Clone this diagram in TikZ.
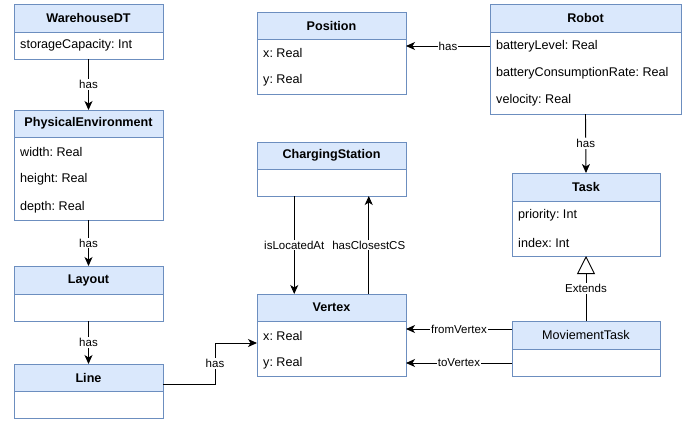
\documentclass[tikz,border=0pt]{standalone}
\usepackage{fontspec}
\setmainfont{Liberation Sans}
\frenchspacing
\usetikzlibrary{arrows.meta,calc}
\definecolor{hdrfill}{HTML}{DAE8FC}
\definecolor{hdrline}{HTML}{6C8EBF}
\tikzset{
 hdr/.style={draw=hdrline, fill=hdrfill, line width=0.9pt, minimum height=28pt, inner sep=0pt, outer sep=0pt, font=\fontsize{12.6}{15}\selectfont\bfseries, anchor=north west},
 bdy/.style={draw=hdrline, fill=white, line width=0.9pt, inner sep=0pt, outer sep=0pt, anchor=north west},
 attr/.style={anchor=west, inner sep=0pt, font=\fontsize{12.6}{15}\selectfont},
 conn/.style={draw=black, line width=0.9pt},
 arr/.style={conn, -{Stealth[length=9pt,width=8pt,inset=2.5pt]}},
 lbl/.style={fill=white, inner sep=1pt, font=\fontsize{11.5}{13}\selectfont},
 ext/.style={conn, -{Triangle[open,length=18pt,width=18pt,fill=white]}},
}
\begin{document}
\begin{tikzpicture}[x=1pt,y=-1pt]
\useasboundingbox (0,0) rectangle (699,421);
% WarehouseDT
\node[hdr, minimum width=149pt, minimum height=28pt] (wdtH) at (14,4) {WarehouseDT};
\node[bdy, minimum width=149pt, minimum height=27pt] (wdtB) at (wdtH.south west) {};
\node[attr] (wdtA1) at ([xshift=6pt,yshift=-13.5pt]wdtB.north west) {storageCapacity: Int};
% PhysicalEnvironment
\node[hdr, minimum width=149pt, minimum height=27pt] (peH) at (14,110) {PhysicalEnvironment};
\node[bdy, minimum width=149pt, minimum height=83pt] (peB) at (peH.south west) {};
\node[attr] (peA1) at ([xshift=6pt,yshift=-15pt]peB.north west) {width: Real};
\node[attr] (peA2) at ([xshift=6pt,yshift=-42.5pt]peB.north west) {height: Real};
\node[attr] (peA3) at ([xshift=6pt,yshift=-70pt]peB.north west) {depth: Real};
% Layout
\node[hdr, minimum width=149pt, minimum height=28pt] (layH) at (14,266) {Layout};
\node[bdy, minimum width=149pt, minimum height=27pt] (layB) at (layH.south west) {};
% Line
\node[hdr, minimum width=149pt, minimum height=27pt] (lineH) at (14,364) {Line};
\node[bdy, minimum width=149pt, minimum height=27pt] (lineB) at (lineH.south west) {};
% Position
\node[hdr, minimum width=149pt, minimum height=27pt] (posH) at (257,12) {Position};
\node[bdy, minimum width=149pt, minimum height=55pt] (posB) at (posH.south west) {};
\node[attr] (posA1) at ([xshift=6pt,yshift=-14pt]posB.north west) {x: Real};
\node[attr] (posA2) at ([xshift=6pt,yshift=-41pt]posB.north west) {y: Real};
% ChargingStation
\node[hdr, minimum width=149pt, minimum height=27pt] (csH) at (257,142) {ChargingStation};
\node[bdy, minimum width=149pt, minimum height=27pt] (csB) at (csH.south west) {};
% Vertex
\node[hdr, minimum width=149pt, minimum height=27pt] (verH) at (257,294) {Vertex};
\node[bdy, minimum width=149pt, minimum height=55pt] (verB) at (verH.south west) {};
\node[attr] (verA1) at ([xshift=6pt,yshift=-15pt]verB.north west) {x: Real};
\node[attr] (verA2) at ([xshift=6pt,yshift=-42pt]verB.north west) {y: Real};
% Robot
\node[hdr, minimum width=191pt, minimum height=28pt] (robH) at (490,4) {Robot};
\node[bdy, minimum width=191pt, minimum height=82pt] (robB) at (robH.south west) {};
\node[attr] (robA1) at ([xshift=6pt,yshift=-14pt]robB.north west) {batteryLevel: Real};
\node[attr] (robA2) at ([xshift=6pt,yshift=-41pt]robB.north west) {batteryConsumptionRate: Real};
\node[attr] (robA3) at ([xshift=6pt,yshift=-68pt]robB.north west) {velocity: Real};
% Task
\node[hdr, minimum width=148pt, minimum height=28pt] (taskH) at (512,173) {Task};
\node[bdy, minimum width=148pt, minimum height=55pt] (taskB) at (taskH.south west) {};
\node[attr] (taskA1) at ([xshift=6pt,yshift=-14pt]taskB.north west) {priority: Int};
\node[attr] (taskA2) at ([xshift=6pt,yshift=-42pt]taskB.north west) {index: Int};
% MoviementTask
\node[hdr, minimum width=148pt, minimum height=28pt, font=\fontsize{12.6}{15}\selectfont] (mtH) at (512,321) {MoviementTask};
\node[bdy, minimum width=148pt, minimum height=27pt] (mtB) at (mtH.south west) {};
% connectors
\draw[arr] (wdtB.south) -- node[lbl]{has} (peH.north);
\draw[arr] (peB.south) -- node[lbl]{has} (layH.north);
\draw[arr] (layB.south) -- node[lbl]{has} (lineH.north);
\coordinate (r1) at ([yshift=-14pt]robB.north west);
\draw[arr] (r1) -- node[lbl]{has} (r1 -| posB.east);
\draw[arr] (robB.south) -- node[lbl]{has} (taskH.north);
\draw[ext] (mtH.north) -- node[lbl]{Extends} (taskB.south);
\draw[arr] ($(csB.south west)!0.25!(csB.south east)$) -- node[lbl]{isLocatedAt} ($(verH.north west)!0.25!(verH.north east)$);
\draw[arr] ($(verH.north west)!0.75!(verH.north east)$) -- node[lbl]{hasClosestCS} ($(csB.south west)!0.75!(csB.south east)$);
\coordinate (m1) at ([yshift=-8pt]mtH.north west);
\draw[arr] (m1) -- node[lbl]{fromVertex} (m1 -| verB.east);
\coordinate (m2) at ([yshift=-14pt]mtB.north west);
\draw[arr] (m2) -- node[lbl]{toVertex} (m2 -| verB.east);
\coordinate (l1) at ([yshift=-20pt]lineH.north east);
\coordinate (v1) at ([yshift=-22pt]verB.north west);
\coordinate (k1) at ($(v1)+(-42,0)$);
\draw[arr] (l1) -| node[lbl,pos=0.75]{has} (k1) -- (v1);
\end{tikzpicture}
\end{document}
